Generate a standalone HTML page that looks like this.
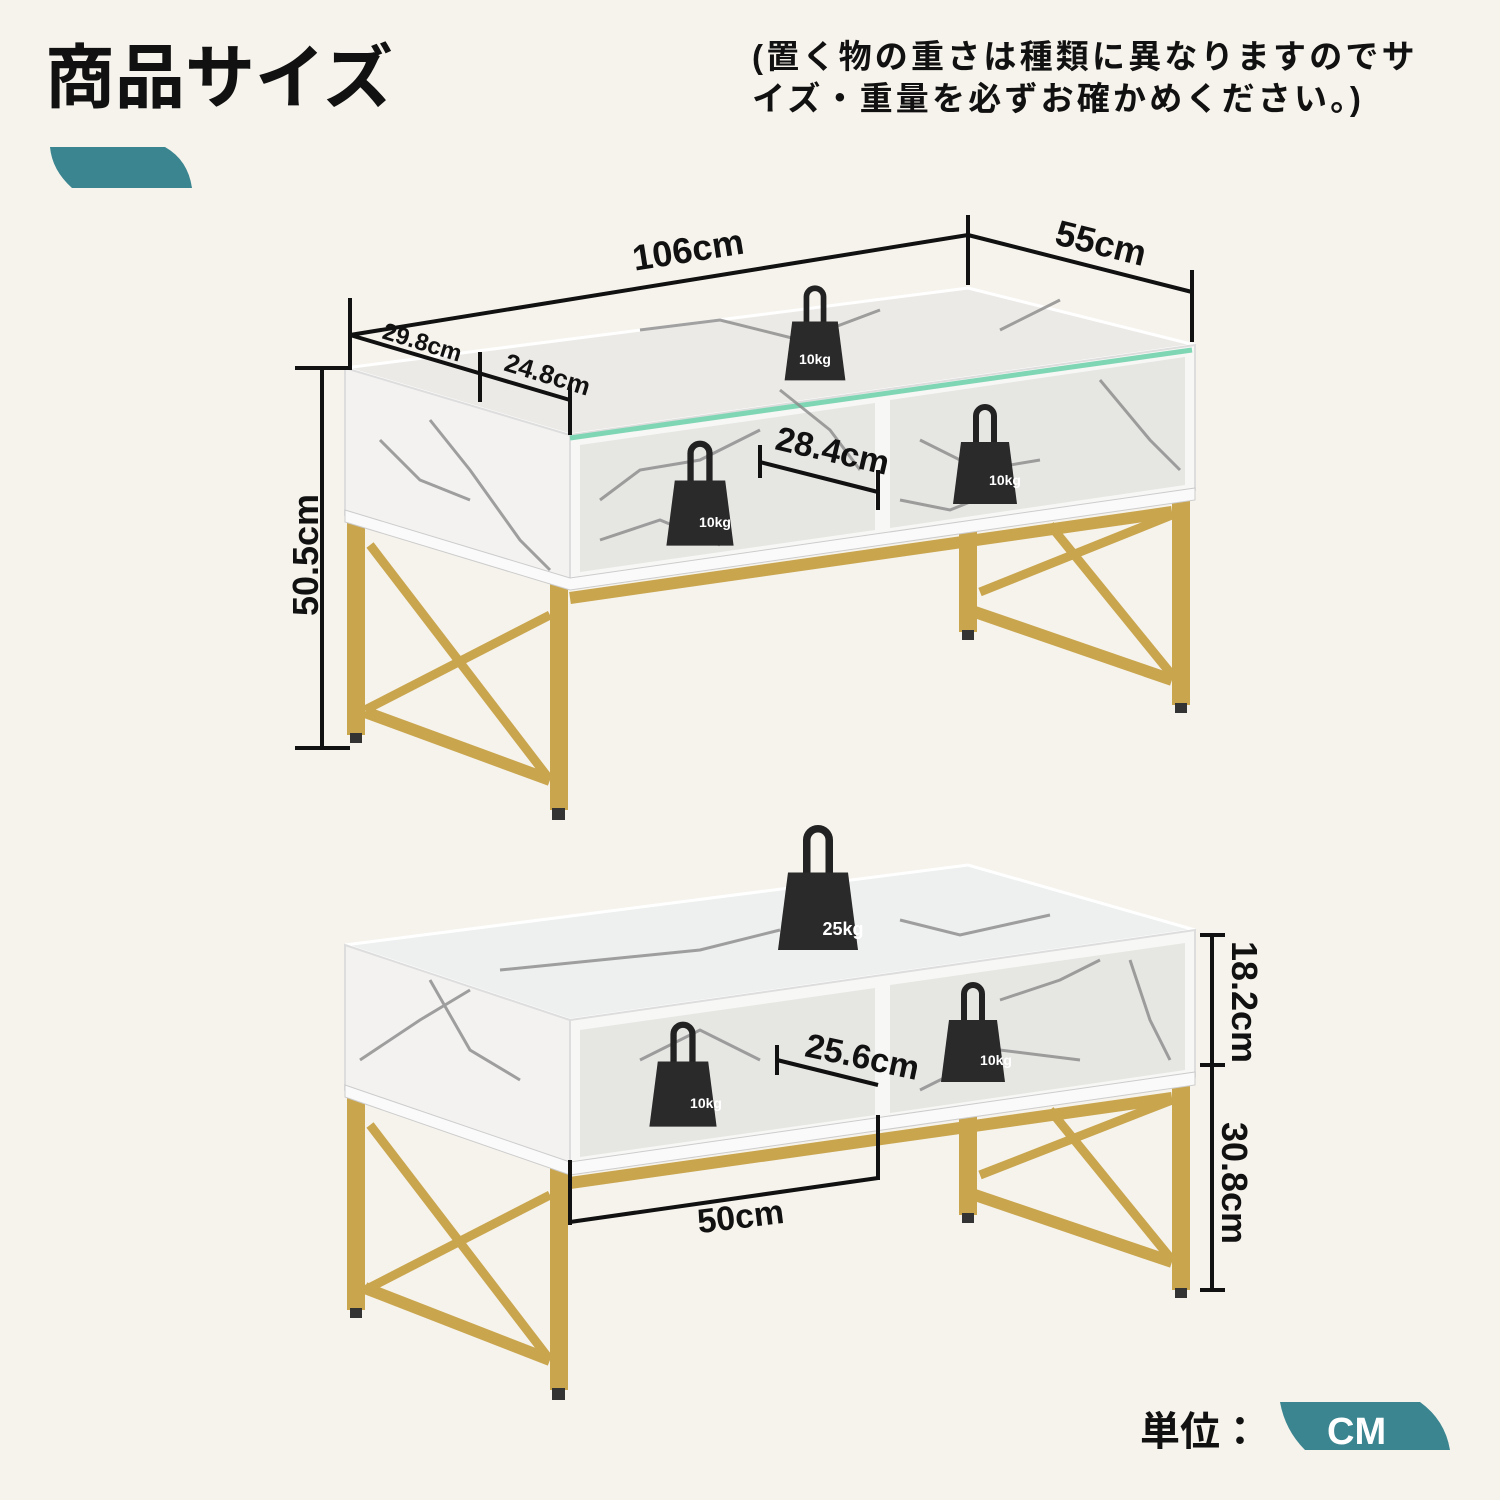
<!DOCTYPE html>
<html><head><meta charset="utf-8"><style>
html,body{margin:0;padding:0;background:#f6f3ec;}
svg{display:block;}
text{font-family:"Liberation Sans","Noto Sans CJK JP",sans-serif;font-weight:bold;}
</style></head><body>
<svg width="1500" height="1500" viewBox="0 0 1500 1500" xmlns="http://www.w3.org/2000/svg">
<rect width="1500" height="1500" fill="#f6f3ec"/>
<defs>
<g id="wt"><path d="M-9,-28 V-56 A9,9 0 0 1 9,-56 V-28" fill="none" stroke="#222" stroke-width="6"/><path d="M-24,-30 H24 L32,32 H-32 Z" fill="#2a2a2a"/></g>
</defs>
<!-- header -->
<text x="45" y="102" font-size="70" fill="#111">商品サイズ</text>
<path d="M50,147 H165 Q188,160 192,188 H72 Q52,170 50,147 Z" fill="#3a8590"/>
<text x="752" y="68" font-size="33" letter-spacing="3.2" fill="#111">(置く物の重さは種類に異なりますのでサ</text>
<text x="752" y="110" font-size="33" letter-spacing="3.2" fill="#111">イズ・重量を必ずお確かめください。)</text>
<!-- unit -->
<text x="1140" y="1445" font-size="40" fill="#111">単位：</text>
<path d="M1280,1402 H1420 Q1445,1420 1450,1450 H1305 Q1285,1430 1280,1402 Z" fill="#3a8590"/>
<text x="1327" y="1444" font-size="38" fill="#fff" font-weight="normal">CM</text>

<!-- ===== TOP TABLE ===== -->
<g stroke="#c9a54e" stroke-width="18" stroke-linecap="butt" fill="none">
 <line x1="356" y1="515" x2="356" y2="735"/>
 <line x1="968" y1="500" x2="968" y2="632"/>
 <line x1="1181" y1="490" x2="1181" y2="705"/>
 <line x1="559" y1="580" x2="559" y2="810"/>
 <line x1="365" y1="712" x2="550" y2="780" stroke-width="12"/>
 <line x1="370" y1="545" x2="550" y2="780" stroke-width="9"/>
 <line x1="365" y1="710" x2="550" y2="615" stroke-width="9"/>
 <line x1="975" y1="612" x2="1172" y2="680" stroke-width="12"/>
 <line x1="980" y1="592" x2="1172" y2="515" stroke-width="9"/>
 <line x1="1050" y1="525" x2="1172" y2="675" stroke-width="9"/>
 <line x1="570" y1="598" x2="1172" y2="512" stroke-width="12"/>
</g>
<g fill="#333"><rect x="350" y="733" width="12" height="10"/><rect x="552" y="808" width="13" height="12"/><rect x="962" y="630" width="12" height="10"/><rect x="1175" y="703" width="12" height="10"/></g>
<polygon points="345,368 968,288 1195,345 570,435" fill="#eceae6" stroke="#fff" stroke-width="3"/>
<polygon points="345,368 570,435 570,582 345,515" fill="#f3f2f0" stroke="#ddd" stroke-width="2"/>
<polygon points="570,435 1195,345 1195,490 570,582" fill="#f7f7f5" stroke="#ddd" stroke-width="2"/>
<polygon points="580,445 875,403 875,530 580,572" fill="#e6e6e3"/>
<polygon points="890,400 1185,357 1185,485 890,528" fill="#e6e6e3"/>
<line x1="570" y1="438" x2="1192" y2="350" stroke="#7fd6b5" stroke-width="5"/>
<polygon points="345,510 570,578 1195,488 1195,500 570,590 345,522" fill="#fafafa" stroke="#ccc"/>
<g stroke="#8a8a8a" stroke-width="3" fill="none" opacity="0.8">
 <path d="M430,420 L470,470 L520,540 L550,570"/><path d="M380,440 L420,480 L470,500"/>
 <path d="M600,500 L640,470 L700,460 L760,430"/><path d="M780,390 L830,430 L860,470"/>
 <path d="M640,330 L720,320 L800,340 L880,310"/><path d="M1000,330 L1060,300"/>
 <path d="M920,440 L980,470 L1040,460"/><path d="M1100,380 L1150,440 L1180,470"/>
 <path d="M600,540 L660,520 L720,545"/><path d="M900,500 L950,510 L1000,490"/>
</g>
<use href="#wt" transform="translate(815,350) scale(0.95)"/>
<text x="815" y="364" font-size="14" text-anchor="middle" fill="#fff">10kg</text>
<use href="#wt" transform="translate(700,512) scale(1.05)"/>
<text x="715" y="527" font-size="14" text-anchor="middle" fill="#fff">10kg</text>
<use href="#wt" transform="translate(985,472) scale(1)"/>
<text x="1005" y="485" font-size="14" text-anchor="middle" fill="#fff">10kg</text>

<!-- top dims -->
<g stroke="#111" stroke-width="4" fill="none">
 <line x1="350" y1="335" x2="968" y2="235"/>
 <line x1="350" y1="298" x2="350" y2="370"/>
 <line x1="968" y1="215" x2="968" y2="285"/>
 <line x1="968" y1="235" x2="1192" y2="292"/>
 <line x1="1192" y1="270" x2="1192" y2="342"/>
 <line x1="322" y1="368" x2="322" y2="748"/>
 <line x1="295" y1="368" x2="350" y2="368"/>
 <line x1="295" y1="748" x2="350" y2="748"/>
 <line x1="350" y1="335" x2="570" y2="400"/>
 <line x1="480" y1="352" x2="480" y2="402"/>
 <line x1="570" y1="385" x2="570" y2="435"/>
 <line x1="760" y1="462" x2="878" y2="492"/>
 <line x1="760" y1="445" x2="760" y2="478"/>
 <line x1="878" y1="470" x2="878" y2="510"/>
</g>
<text transform="translate(690,262) rotate(-9)" font-size="36" text-anchor="middle" fill="#111">106cm</text>
<text transform="translate(1098,255) rotate(14)" font-size="36" text-anchor="middle" fill="#111">55cm</text>
<text transform="translate(318,555) rotate(-90)" font-size="36" text-anchor="middle" fill="#111">50.5cm</text>
<text transform="translate(420,350) rotate(17)" font-size="24" text-anchor="middle" fill="#111">29.8cm</text>
<text transform="translate(545,383) rotate(17)" font-size="26" text-anchor="middle" fill="#111">24.8cm</text>
<text transform="translate(830,462) rotate(13)" font-size="34" text-anchor="middle" fill="#111">28.4cm</text>

<!-- ===== BOTTOM TABLE ===== -->
<g stroke="#c9a54e" stroke-width="18" fill="none">
 <line x1="356" y1="1090" x2="356" y2="1310"/>
 <line x1="968" y1="1100" x2="968" y2="1215"/>
 <line x1="1181" y1="1078" x2="1181" y2="1290"/>
 <line x1="559" y1="1165" x2="559" y2="1390"/>
 <line x1="365" y1="1288" x2="550" y2="1360" stroke-width="12"/>
 <line x1="370" y1="1125" x2="550" y2="1360" stroke-width="9"/>
 <line x1="365" y1="1290" x2="550" y2="1195" stroke-width="9"/>
 <line x1="975" y1="1195" x2="1172" y2="1262" stroke-width="12"/>
 <line x1="980" y1="1175" x2="1172" y2="1100" stroke-width="9"/>
 <line x1="1050" y1="1110" x2="1172" y2="1260" stroke-width="9"/>
 <line x1="570" y1="1183" x2="1172" y2="1098" stroke-width="12"/>
</g>
<g fill="#333"><rect x="350" y="1308" width="12" height="10"/><rect x="552" y="1388" width="13" height="12"/><rect x="962" y="1213" width="12" height="10"/><rect x="1175" y="1288" width="12" height="10"/></g>
<polygon points="345,945 968,865 1195,930 570,1020" fill="#edf0ee" stroke="#fff" stroke-width="3"/>
<polygon points="345,945 570,1020 570,1167 345,1090" fill="#f3f2f0" stroke="#ddd" stroke-width="2"/>
<polygon points="570,1020 1195,930 1195,1077 570,1167" fill="#f7f7f5" stroke="#ddd" stroke-width="2"/>
<polygon points="580,1030 875,988 875,1115 580,1157" fill="#e6e6e3"/>
<polygon points="890,985 1185,943 1185,1070 890,1113" fill="#e6e6e3"/>
<polygon points="345,1085 570,1162 1195,1072 1195,1085 570,1175 345,1097" fill="#fafafa" stroke="#ccc"/>
<g stroke="#8a8a8a" stroke-width="3" fill="none" opacity="0.8">
 <path d="M360,1060 L420,1020 L470,990"/><path d="M430,980 L470,1050 L520,1080"/>
 <path d="M500,970 L600,960 L700,950 L780,930"/><path d="M900,920 L960,935 L1050,915"/>
 <path d="M640,1060 L700,1030 L760,1060"/><path d="M1000,1000 L1060,980 L1100,960"/>
 <path d="M1130,960 L1150,1020 L1170,1060"/><path d="M920,1090 L1000,1050 L1080,1060"/>
</g>
<use href="#wt" transform="translate(818,910) scale(1.25)"/>
<text x="843" y="935" font-size="18" text-anchor="middle" fill="#fff">25kg</text>
<use href="#wt" transform="translate(683,1093) scale(1.05)"/>
<text x="706" y="1108" font-size="14" text-anchor="middle" fill="#fff">10kg</text>
<use href="#wt" transform="translate(973,1050) scale(1)"/>
<text x="996" y="1065" font-size="14" text-anchor="middle" fill="#fff">10kg</text>

<g stroke="#111" stroke-width="4" fill="none">
 <line x1="1212" y1="935" x2="1212" y2="1290"/>
 <line x1="1200" y1="935" x2="1225" y2="935"/>
 <line x1="1200" y1="1065" x2="1225" y2="1065"/>
 <line x1="1200" y1="1290" x2="1225" y2="1290"/>
 <line x1="570" y1="1222" x2="878" y2="1178"/>
 <line x1="570" y1="1160" x2="570" y2="1225"/>
 <line x1="878" y1="1115" x2="878" y2="1180"/>
 <line x1="777" y1="1060" x2="878" y2="1085"/>
 <line x1="777" y1="1045" x2="777" y2="1075"/>
</g>
<text transform="translate(1232,1002) rotate(90)" font-size="36" text-anchor="middle" fill="#111">18.2cm</text>
<text transform="translate(1222,1183) rotate(90)" font-size="36" text-anchor="middle" fill="#111">30.8cm</text>
<text transform="translate(742,1228) rotate(-7)" font-size="34" text-anchor="middle" fill="#111">50cm</text>
<text transform="translate(860,1068) rotate(12)" font-size="34" text-anchor="middle" fill="#111">25.6cm</text>
</svg>
</body></html>
